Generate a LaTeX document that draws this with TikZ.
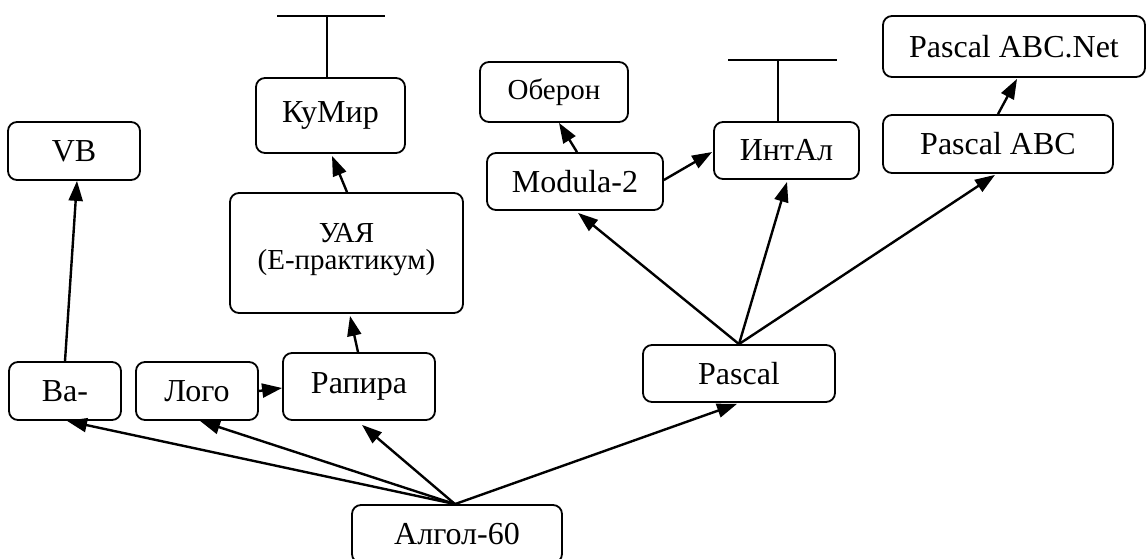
\documentclass[tikz,border=0pt]{standalone}
\usepackage{fontspec}
\setmainfont{Liberation Serif}
\usetikzlibrary{arrows.meta,calc}
\begin{document}
\begin{tikzpicture}[x=1pt,y=-1pt,
  box/.style={draw,line width=1.8pt,rounded corners=9pt,inner sep=0pt,
    font=\fontsize{32pt}{34pt}\selectfont},
  arr/.style={line width=2.4pt,-{Triangle[length=20pt,width=14pt]}},
  plain/.style={line width=2pt}]
\useasboundingbox (0,0) rectangle (1146,559);
% nodes
\node[box,minimum width=132pt,minimum height=58pt] (vb) at (74,151) {VB};
\node[box,minimum width=112pt,minimum height=58pt] (ba) at (65,391) {Ba-};
\node[box,minimum width=122pt,minimum height=58pt] (logo) at (197,391) {Лого};
\node[box,minimum width=152pt,minimum height=67pt] (rapira) at (359,386.5) {Рапира};
\node[box,minimum width=233pt,minimum height=120pt,align=center,
  font=\fontsize{29pt}{27pt}\selectfont] (uaya) at (346.5,253) {УАЯ\\(Е-практикум)\\[-14pt]\mbox{}};
\node[box,minimum width=149pt,minimum height=75pt] (kumir) at (330.5,115.5) {КуМир};
\node[box,minimum width=148pt,minimum height=60pt,
  font=\fontsize{29pt}{31pt}\selectfont] (oberon) at (554,92) {Оберон};
\node[box,minimum width=176pt,minimum height=57pt] (modula) at (575,181.5) {Modula-2};
\node[box,minimum width=145pt,minimum height=57pt] (intal) at (786.5,150.5) {ИнтАл};
\node[box,minimum width=262pt,minimum height=61pt] (net) at (1014,46.5) {Pascal ABC.Net};
\node[box,minimum width=230pt,minimum height=58pt] (pabc) at (998,144) {Pascal ABC};
\node[box,minimum width=192pt,minimum height=57pt] (pascal) at (739,373.5) {Pascal};
\node[box,minimum width=210pt,minimum height=58pt] (algol) at (457,534) {Алгол-60};
% T marks
\coordinate (kt) at (327,16);
\coordinate (kl) at (277,16);
\coordinate (kr) at (385,16);
\draw[plain] (kumir.north -| kt) -- (kt);
\draw[plain] (kl) -- (kr);
\coordinate (it) at (778,60);
\coordinate (il) at (728,60);
\coordinate (ir) at (837,60);
\draw[plain] (intal.north -| it) -- (it);
\draw[plain] (il) -- (ir);
% arrows from Algol
\coordinate (ao) at ($(algol.north)+(-2,0)$);
\draw[arr] (ao) -- ($(ba.south)+(2,0)$);
\draw[arr] (ao) -- ($(logo.south)+(3,0)$);
\draw[arr] (ao) -- ($(rapira.south)+(3,4)$);
\draw[arr] (ao) -- ($(pascal.south)+(-2,1)$);
% left branch
\draw[arr] (logo.east) -- ($(rapira.west)+(0,1.5)$);
\draw[arr] (ba.north) -- ($(vb.south)+(3,0)$);
\draw[arr] ($(rapira.north)+(-1,0)$) -- ($(uaya.south)+(3.5,2)$);
\draw[arr] ($(uaya.north)+(0.5,0)$) -- ($(kumir.south)+(1.5,2)$);
% Pascal branch
\draw[arr] (pascal.north) -- ($(modula.south)+(3,2)$);
\draw[arr] (pascal.north) -- ($(intal.south)+(0.5,2)$);
\draw[arr] (pascal.north) -- ($(pabc.south)+(-3,1)$);
\draw[arr] ($(modula.north)+(2,0)$) -- ($(oberon.south)+(5,0)$);
\draw[arr] ($(modula.east)+(0,-1.5)$) -- ($(intal.west)+(-1,1.5)$);
\draw[arr] (pabc.north) -- ($(net.south)+(3,1)$);
\end{tikzpicture}
\end{document}
